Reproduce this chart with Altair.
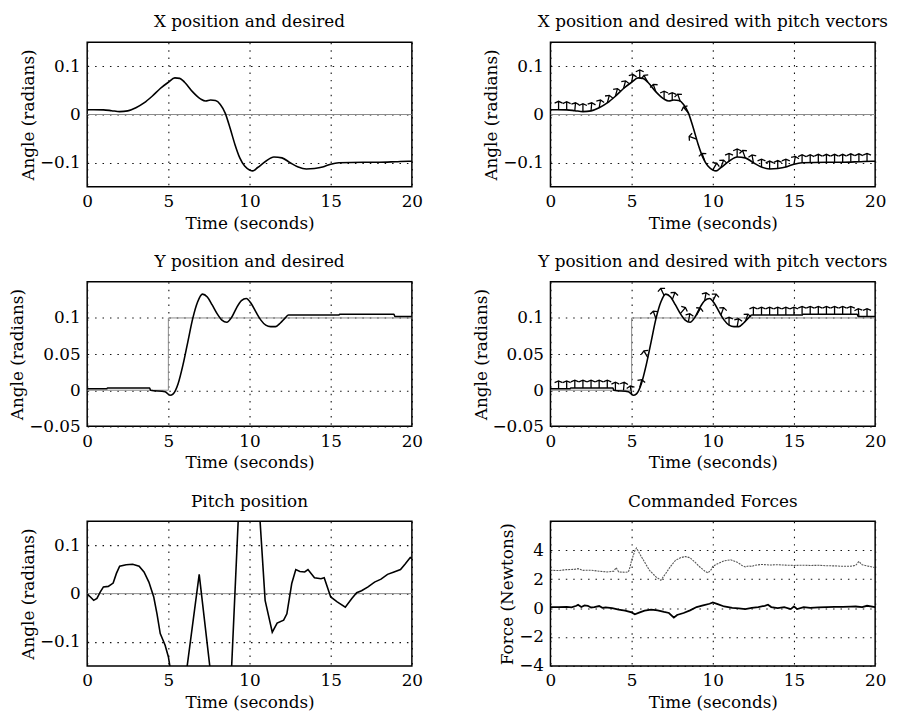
import altair as alt
import pandas as pd

FONT = "DejaVu Serif"

# ---------------- data ----------------
x_t = [0, 1, 1.5, 2, 2.5, 3, 3.5, 4, 4.5, 5, 5.4, 5.7, 6, 6.5, 7, 7.3, 7.6, 7.9, 8.2, 8.5, 8.8, 9.1,
       9.4, 9.7, 10, 10.2, 10.5, 11, 11.5, 12, 12.5, 13, 13.5, 14, 14.5, 15, 15.5, 17, 18, 19, 19.8, 20]
x_v = [0.010, 0.0097, 0.008, 0.006, 0.0076, 0.014, 0.024, 0.038, 0.054, 0.067, 0.076, 0.075, 0.067,
       0.047, 0.032, 0.028, 0.030, 0.029, 0.021, 0.003, -0.028, -0.062, -0.090, -0.107, -0.115, -0.117,
       -0.110, -0.097, -0.088, -0.090, -0.100, -0.109, -0.113, -0.112, -0.109, -0.103, -0.100, -0.099,
       -0.099, -0.098, -0.097, -0.097]
x_des_t = [0, 20]
x_des_v = [0, 0]

y_t = [0, 1.2, 1.25, 3.85, 3.9, 4.8, 5.1, 5.3, 5.6, 5.9, 6.2, 6.5, 6.8, 7.1, 7.4, 7.7, 8, 8.3, 8.6, 8.9,
       9.2, 9.5, 9.8, 10.1, 10.4, 10.7, 11, 11.3, 11.6, 11.9, 12.2, 12.4, 15.5, 15.55, 18.9, 18.95, 20]
y_v = [0.002, 0.002, 0.003, 0.003, 0.0, -0.002, -0.007, -0.005, 0.009, 0.035, 0.067, 0.099, 0.122,
       0.133, 0.129, 0.118, 0.106, 0.097, 0.094, 0.101, 0.114, 0.124, 0.127, 0.120, 0.108, 0.097, 0.090,
       0.088, 0.088, 0.093, 0.100, 0.104, 0.104, 0.105, 0.105, 0.102, 0.102]
y_des_t = [0, 5, 5, 20]
y_des_v = [0, 0, 0.1, 0.1]

p_t = [0, 0.2, 0.4, 0.6, 0.8, 1.0, 1.3, 1.6, 1.8, 2.0, 2.4, 2.8, 3.2, 3.5, 3.8, 4.1, 4.3, 4.5, 4.8, 5.0,
       5.1, 5.5, 5.9, 6.16, 6.9, 7.55, 8.0, 8.5, 8.9, 9.3, 9.7, 10.2, 10.65, 10.96, 11.4, 11.7, 12.1,
       12.3, 12.6, 12.85, 13.1, 13.4, 13.6, 14.0, 14.4, 14.6, 15.0, 15.4, 15.9, 16.3, 16.6, 16.9, 17.3,
       17.7, 18.1, 18.5, 18.9, 19.3, 19.6, 19.9, 20]
p_v = [-0.001, -0.007, -0.014, -0.010, 0.003, 0.014, 0.015, 0.022, 0.042, 0.057, 0.060, 0.061, 0.057,
       0.045, 0.024, -0.007, -0.042, -0.083, -0.107, -0.131, -0.152, -0.30, -0.30, -0.15, 0.040, -0.15,
       -0.35, -0.35, -0.15, 0.15, 0.40, 0.40, 0.15, -0.014, -0.080, -0.061, -0.055, -0.042, 0.021, 0.050,
       0.046, 0.045, 0.050, 0.033, 0.031, 0.033, -0.007, -0.017, -0.028, -0.010, 0.002, 0.006, 0.014,
       0.024, 0.030, 0.040, 0.045, 0.050, 0.062, 0.075, 0.073]
p_ref_t = [0, 20]
p_ref_v = [0, 0]

f1_t = [0, 0.5, 1, 1.5, 1.7, 2, 2.5, 3, 3.5, 3.9, 4.05, 4.2, 4.6, 4.8, 4.9, 5.0, 5.2, 5.3, 5.5, 5.8,
        6.1, 6.5, 6.8, 7.1, 7.4, 7.7, 8.0, 8.3, 8.6, 8.9, 9.2, 9.5, 9.7, 9.9, 10.0, 10.3, 10.7, 11.1,
        11.5, 11.8, 12.0, 12.2, 12.4, 12.6, 13, 13.5, 14, 14.5, 15, 15.5, 16, 16.5, 17, 17.5, 18, 18.5,
        18.8, 19.0, 19.2, 19.5, 20]
f1_v = [2.61, 2.60, 2.66, 2.68, 2.73, 2.61, 2.62, 2.55, 2.50, 2.55, 2.80, 2.50, 2.48, 2.50, 2.84, 3.30,
        3.98, 4.16, 3.75, 3.18, 2.61, 2.16, 1.93, 2.39, 2.89, 3.30, 3.48, 3.57, 3.48, 3.18, 2.84, 2.57,
        2.43, 2.66, 2.89, 3.07, 3.27, 3.34, 3.18, 2.95, 2.85, 2.92, 2.88, 2.96, 3.02, 2.98, 3.00, 2.97,
        2.95, 2.97, 2.95, 2.96, 2.93, 2.92, 2.89, 2.90, 2.95, 3.23, 3.00, 2.92, 2.80]
f2_t = [0, 0.5, 1, 1.3, 1.6, 1.7, 1.9, 2.1, 2.3, 2.5, 2.7, 3.0, 3.2, 3.4, 3.8, 4.2, 4.6, 5.0, 5.2, 5.5,
        5.8, 6.2, 6.6, 7.0, 7.3, 7.6, 7.8, 8.2, 8.6, 9.0, 9.4, 9.8, 10.0, 10.3, 10.7, 11.2, 11.6, 12.0,
        12.4, 12.8, 13.2, 13.4, 13.6, 14.0, 14.4, 14.8, 15.0, 15.2, 15.6, 16.0, 16.5, 17.0, 17.5, 18.0,
        18.5, 18.8, 19.2, 19.5, 20]
f2_v = [0.07, 0.07, 0.09, 0.05, 0.16, 0.23, 0.07, 0.18, 0.16, 0.04, 0.07, 0.14, 0.02, 0.05, 0.0, -0.11,
        -0.18, -0.30, -0.43, -0.30, -0.18, -0.11, -0.16, -0.27, -0.34, -0.66, -0.48, -0.34, -0.16, 0.07,
        0.18, 0.30, 0.39, 0.27, 0.11, 0.02, -0.02, -0.07, 0.02, 0.07, 0.16, 0.23, 0.07, 0.0, 0.07, -0.07,
        0.11, -0.07, 0.07, 0.02, 0.05, 0.07, 0.09, 0.09, 0.10, 0.11, 0.07, 0.16, 0.07]

arrow_t = [0.5, 1.0, 1.5, 2.0, 2.5, 3.0, 3.5, 4.0, 4.5, 5.0, 5.5, 6.0, 6.5, 7.0, 7.5, 8.0, 8.5, 9.0, 9.5,
           10.0, 10.5, 11.0, 11.5, 12.0, 12.5, 13.0, 13.5, 14.0, 14.5, 15.0, 15.5, 16.0, 16.5, 17.0,
           17.5, 18.0, 18.5, 19.0, 19.5]
x_arrow_base = [0.011, 0.010, 0.008, 0.006, 0.008, 0.014, 0.024, 0.038, 0.054, 0.067, 0.076, 0.067,
                0.047, 0.032, 0.029, 0.027, 0.003, -0.051, -0.096, -0.115, -0.110, -0.097, -0.088,
                -0.090, -0.100, -0.109, -0.113, -0.112, -0.109, -0.103, -0.100, -0.100, -0.099, -0.099,
                -0.099, -0.099, -0.098, -0.098, -0.097]
x_arrow_angle = [0, 0, 5, 0, 5, 10, 15, 15, 15, 10, 0, -30, -20, 0, 0, -20, -40, -70, -20, 30, 20, 0, 0,
                 -20, -10, 0, 0, 0, 0, 10, 0, 0, 0, 0, 0, 0, 0, 0, 0]
y_arrow_base = [0.002, 0.002, 0.003, 0.003, 0.003, 0.003, 0.003, 0.0, 0.0, -0.005, 0.004, 0.045, 0.099,
                0.131, 0.125, 0.106, 0.095, 0.104, 0.124, 0.123, 0.104, 0.090, 0.088, 0.095, 0.104,
                0.104, 0.104, 0.104, 0.104, 0.104, 0.105, 0.105, 0.105, 0.105, 0.105, 0.105, 0.105,
                0.102, 0.102]
y_arrow_angle = [0, 0, 0, 0, 0, 0, 0, 0, 5, -10, 15, -30, -20, -25, 20, 40, 10, 30, 10, 25, 20, 0, 10,
                 20, 0, 0, 0, 0, 0, 0, 0, 0, 0, 0, 0, 0, 0, -5, 0]

x_ticks = [0, 5, 10, 15, 20]
ang_ticks = [-0.1, 0, 0.1]
ang2_ticks = [-0.05, 0, 0.05, 0.1]
force_ticks = [-4, -2, 0, 2, 4]

ARROW = "M0,0L0,-2M-1,-1.55L0,-2L1,-1.55"
W, H = 328, 146


def df(t, v):
    return pd.DataFrame({"t": t, "v": v, "i": range(len(t))})


def enc_x():
    return alt.X("t:Q", scale=alt.Scale(domain=[0, 20], nice=False, zero=False),
                 axis=alt.Axis(values=x_ticks, title="Time (seconds)"))


def enc_y(domain, ticks, title):
    return alt.Y("v:Q", scale=alt.Scale(domain=domain, nice=False, zero=False),
                 axis=alt.Axis(values=ticks, title=title, format="~g"))


def line(data, domain, ticks, title, color="black", width=1.6, dash=None, interp="monotone"):
    kw = dict(color=color, strokeWidth=width, clip=True, interpolate=interp)
    if dash:
        kw["strokeDash"] = dash
    return alt.Chart(data).mark_line(**kw).encode(
        x=enc_x(), y=enc_y(domain, ticks, title), order="i:Q")


def arrows(base, ang, domain, ticks, title):
    d = pd.DataFrame({"t": arrow_t, "v": base, "a": ang})
    return alt.Chart(d).mark_point(shape=ARROW, size=64, filled=False, color="black",
                                    strokeWidth=1.3, opacity=1, clip=True).encode(
        x=enc_x(), y=enc_y(domain, ticks, title),
        angle=alt.Angle("a:Q", scale=None))


def ttl(text):
    return alt.TitleParams(text=text, font=FONT, fontSize=17, fontWeight="normal", color="black",
                           offset=-6, baseline="bottom", anchor="middle")


AD = [-0.15, 0.15]
AD2 = [-0.05, 0.15]
FD = [-4, 6]
AT = "Angle (radians)"

p1 = alt.layer(
    line(df(x_des_t, x_des_v), AD, ang_ticks, AT, color="#8a8a8a", width=1, interp="linear"),
    line(df(x_t, x_v), AD, ang_ticks, AT),
).properties(width=W, height=H, title=ttl("X position and desired"))

p2 = alt.layer(
    line(df(x_des_t, x_des_v), AD, ang_ticks, AT, color="#8a8a8a", width=1, interp="linear"),
    line(df(x_t, x_v), AD, ang_ticks, AT),
    arrows(x_arrow_base, x_arrow_angle, AD, ang_ticks, AT),
).properties(width=W, height=H, title=ttl("X position and desired with pitch vectors"))

p3 = alt.layer(
    line(df(y_des_t, y_des_v), AD2, ang2_ticks, AT, color="#8a8a8a", width=1, interp="linear"),
    line(df(y_t, y_v), AD2, ang2_ticks, AT),
).properties(width=W, height=H, title=ttl("Y position and desired"))

p4 = alt.layer(
    line(df(y_des_t, y_des_v), AD2, ang2_ticks, AT, color="#8a8a8a", width=1, interp="linear"),
    line(df(y_t, y_v), AD2, ang2_ticks, AT),
    arrows(y_arrow_base, y_arrow_angle, AD2, ang2_ticks, AT),
).properties(width=W, height=H, title=ttl("Y position and desired with pitch vectors"))

p5 = alt.layer(
    line(df(p_ref_t, p_ref_v), AD, ang_ticks, AT, color="#8a8a8a", width=1, interp="linear"),
    line(df(p_t, p_v), AD, ang_ticks, AT, interp="linear"),
).properties(width=W, height=H, title=ttl("Pitch position"))

p6 = alt.layer(
    line(df(f1_t, f1_v), FD, force_ticks, "Force (Newtons)", color="#555555", width=1.1,
         dash=[2, 1], interp="linear"),
    line(df(f2_t, f2_v), FD, force_ticks, "Force (Newtons)", width=1.8, interp="linear"),
).properties(width=W, height=H, title=ttl("Commanded Forces"))

chart = alt.concat(p1, p2, p3, p4, p5, p6, columns=2,
                   spacing={"row": 20, "column": 48}).properties(
    padding={"top": 1, "left": 0, "right": 0, "bottom": 0},
    background="white",
).configure_view(
    stroke="black", strokeWidth=1.5
).configure_axis(
    grid=True, gridColor="#111111", gridDash=[1.5, 6], gridWidth=1.1, gridOpacity=1,
    domain=False, ticks=False, tickSize=0,
    labelFont=FONT, labelFontSize=17, labelColor="black", labelFlush=False, labelOverlap=False,
    labelPadding=7,
    titleFont=FONT, titleFontSize=17, titleFontWeight="normal", titleColor="black",
).configure_axisX(titlePadding=6).configure_axisY(titlePadding=2)

chart.save("out.html", embed_options={"renderer": "svg", "actions": False})
